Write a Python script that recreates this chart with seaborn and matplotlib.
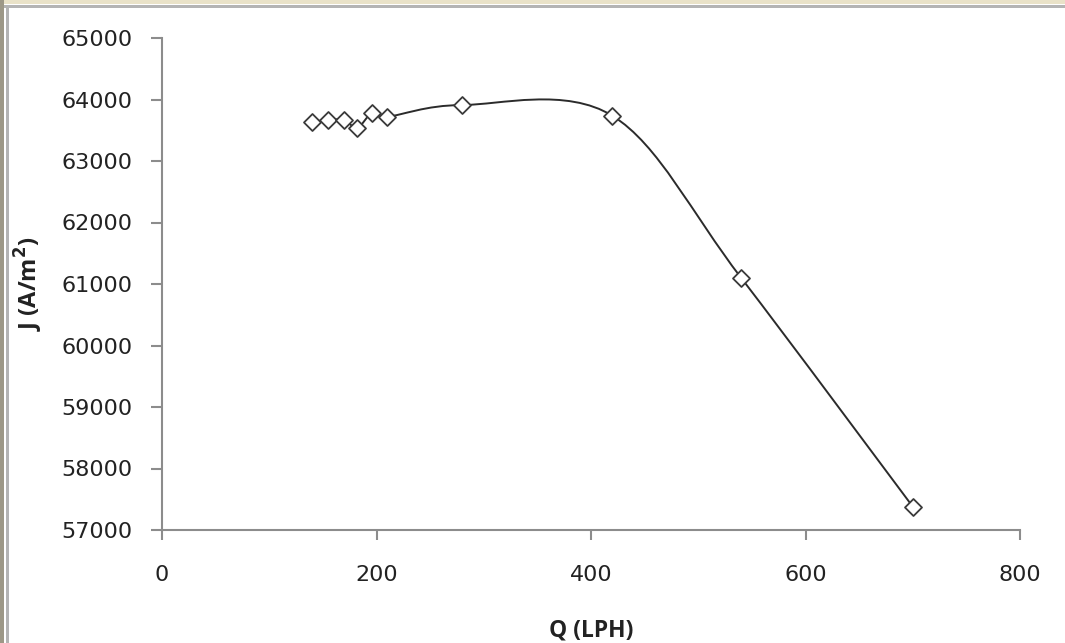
import numpy as np
import pandas as pd
import matplotlib
matplotlib.use("Agg")
import matplotlib.pyplot as plt
from matplotlib.path import Path
from matplotlib.patches import PathPatch, Rectangle
import seaborn as sns

# Flow rate (LPH) and current density (A/m^2)
flow_lph = [140, 155, 170, 182, 196, 210, 280, 420, 540, 700]
current_density = [63630, 63670, 63665, 63540, 63780, 63720, 63910, 63735, 61100, 57380]

x_ticks = [0, 200, 400, 600, 800]
y_ticks = [57000, 58000, 59000, 60000, 61000, 62000, 63000, 64000, 65000]

df = pd.DataFrame({"Q": flow_lph, "J": current_density})

sns.set_style("white")
plt.rcParams["font.family"] = ["DejaVu Sans"]

fig = plt.figure(figsize=(10.65, 6.43), dpi=100)
ax = fig.add_axes([162 / 1065, 1 - 530 / 643, (1020 - 162) / 1065, (530 - 38) / 643])


def smooth_path(xs, ys):
    """Catmull-Rom style smoothed line expressed as cubic Bezier segments."""
    pts = np.column_stack([xs, ys]).astype(float)
    n = len(pts)
    verts = [pts[0]]
    codes = [Path.MOVETO]
    for i in range(n - 1):
        p0 = pts[i - 1] if i > 0 else pts[i]
        p1 = pts[i]
        p2 = pts[i + 1]
        p3 = pts[i + 2] if i + 2 < n else pts[i + 1]
        c1 = p1 + (p2 - p0) / 6.0
        c2 = p2 - (p3 - p1) / 6.0
        verts += [c1, c2, p2]
        codes += [Path.CURVE4] * 3
    return Path(verts, codes)


ax.add_patch(PathPatch(smooth_path(df["Q"], df["J"]), facecolor="none",
                       edgecolor="#2b2b2b", linewidth=1.4, zorder=2))

sns.scatterplot(data=df, x="Q", y="J", ax=ax, marker="D", s=75,
                facecolor="white", edgecolor="#3a3a3a", linewidth=1.3,
                zorder=3, legend=False)

ax.set_xlim(0, 800)
ax.set_ylim(57000, 65000)
ax.set_xticks(x_ticks)
ax.set_yticks(y_ticks)

for side in ["top", "right"]:
    ax.spines[side].set_visible(False)
for side in ["left", "bottom"]:
    ax.spines[side].set_color("#8c8c8c")
    ax.spines[side].set_linewidth(1.5)

ax.tick_params(axis="both", direction="out", color="#8c8c8c", width=1.5,
               labelsize=16, labelcolor="#222222", bottom=True, left=True)
ax.tick_params(axis="y", length=8, pad=13)
ax.tick_params(axis="x", length=7, pad=18)
ax.grid(False)

ax.set_xlabel("Q (LPH)", fontsize=16.5, fontweight="bold", color="#222222",
              family="Open Sans")
ax.set_ylabel("J (A/m$^\\mathbf{2}$)", fontsize=17, fontweight="bold",
              color="#222222", family="Open Sans")
ax.xaxis.set_label_coords(0.5, -0.18)
ax.yaxis.set_label_coords(-0.136, 0.5)

# window-style bevel along the top and left edges
fig.patches.append(Rectangle((0, 1 - 4 / 643), 1, 4 / 643, transform=fig.transFigure,
                             facecolor="#e9e2c8", edgecolor="none", zorder=0))
fig.patches.append(Rectangle((0, 1 - 8 / 643), 1, 3 / 643, transform=fig.transFigure,
                             facecolor="#b4b4b4", edgecolor="none", zorder=0))
fig.patches.append(Rectangle((0, 0), 4 / 1065, 1, transform=fig.transFigure,
                             facecolor="#9d9887", edgecolor="none", zorder=0))
fig.patches.append(Rectangle((6 / 1065, 0), 3 / 1065, 1 - 5 / 643, transform=fig.transFigure,
                             facecolor="#b4b4b4", edgecolor="none", zorder=0))

fig.savefig("out.png", dpi=100)
